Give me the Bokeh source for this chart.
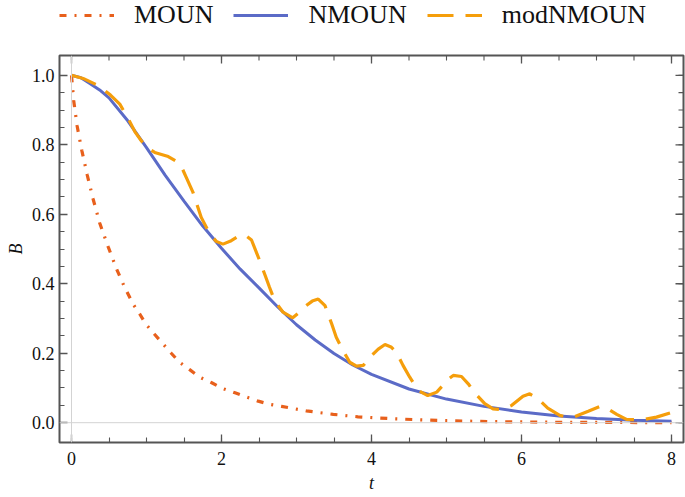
import math
from bokeh.plotting import figure
from bokeh.layouts import column
from bokeh.models import Range1d, FixedTicker, Span, Legend, LegendItem
from bokeh.embed import file_html
from bokeh.resources import INLINE

# ---- data ----
t_moun = [0, 0.03, 0.075, 0.137, 0.21, 0.288, 0.377, 0.488, 0.6, 0.71, 0.82, 0.91, 0.99,
          1.11, 1.22, 1.33, 1.44, 1.58, 1.71, 1.87, 2.02, 2.18, 2.33, 2.49, 2.64, 2.8,
          3.13, 3.49, 3.82, 4.31, 4.95, 5.6, 6.5, 7.3, 8.0]
b_moun = [1.0, 0.926, 0.854, 0.784, 0.713, 0.644, 0.574, 0.507, 0.443, 0.389, 0.342, 0.313, 0.284,
          0.254, 0.227, 0.2, 0.174, 0.152, 0.131, 0.115, 0.098, 0.086, 0.074, 0.062, 0.053, 0.047,
          0.034, 0.024, 0.017, 0.011, 0.006, 0.003, 0.0012, 0.0006, 0.0003]

t_nmoun = [0, 0.125, 0.25, 0.375, 0.5, 0.75, 1.0, 1.25, 1.5, 1.75, 2.0, 2.25, 2.5, 2.75, 3.0,
           3.25, 3.5, 3.75, 4.0, 4.5, 5.0, 5.5, 6.0, 6.5, 7.0, 7.5, 8.0]
b_nmoun = [1.0, 0.993, 0.976, 0.958, 0.935, 0.869, 0.792, 0.712, 0.638, 0.566, 0.502, 0.442,
           0.388, 0.333, 0.282, 0.238, 0.199, 0.166, 0.139, 0.097, 0.068, 0.047, 0.031, 0.019,
           0.012, 0.007, 0.0045]

t_mod = [0, 0.155, 0.37, 0.52, 0.644, 0.755, 0.844, 0.933, 1.02, 1.11, 1.2, 1.29, 1.4, 1.47,
         1.53, 1.62, 1.73, 1.84, 1.93, 2.02, 2.13, 2.22, 2.31, 2.4, 2.51, 2.58, 2.64, 2.71,
         2.82, 2.95, 3.04, 3.13, 3.21, 3.29, 3.38, 3.47, 3.53, 3.62, 3.71, 3.8, 3.89, 4.0,
         4.09, 4.18, 4.26, 4.33, 4.42, 4.51, 4.62, 4.75, 4.87, 4.95, 5.02, 5.09, 5.2, 5.29,
         5.38, 5.51, 5.62, 5.71, 5.8, 5.87, 6.02, 6.11, 6.22, 6.35, 6.51, 6.6, 6.69, 6.89,
         7.05, 7.15, 7.27, 7.4, 7.62, 7.8, 7.98]
b_mod = [1.0, 0.991, 0.969, 0.943, 0.917, 0.876, 0.838, 0.811, 0.79, 0.778, 0.772, 0.766, 0.752, 0.735,
         0.706, 0.663, 0.591, 0.545, 0.522, 0.514, 0.524, 0.536, 0.541, 0.526, 0.466, 0.425, 0.39, 0.351,
         0.318, 0.302, 0.318, 0.337, 0.35, 0.356, 0.337, 0.284, 0.246, 0.208, 0.174, 0.163, 0.165, 0.193,
         0.212, 0.225, 0.218, 0.203, 0.165, 0.131, 0.093, 0.078, 0.088, 0.107, 0.125, 0.136, 0.133, 0.112,
         0.085, 0.055, 0.04, 0.038, 0.043, 0.05, 0.076, 0.083, 0.069, 0.042, 0.021, 0.016, 0.016, 0.033,
         0.047, 0.04, 0.024, 0.0095, 0.0086, 0.016, 0.028]

x_major = [0, 2, 4, 6, 8]
x_minor = [i * 0.5 for i in range(17)]
y_major = [0.0, 0.2, 0.4, 0.6, 0.8, 1.0]
y_minor = [i * 0.05 for i in range(21)]
y_labels = {0.0: "0.0", 0.2: "0.2", 0.4: "0.4", 0.6: "0.6", 0.8: "0.8", 1.0: "1.0"}
names = ["MOUN", "NMOUN", "modNMOUN"]
X_LO, X_HI = -0.16, 8.16
Y_LO, Y_HI = -0.057, 1.057

C_MOUN = "#E8601C"
C_NMOUN = "#5B6BC7"
C_MOD = "#F59E0B"
FRAME = "#555555"
FONT = "Liberation Serif"
S_MOUN = dict(line_color=C_MOUN, line_width=3.2, line_dash="7 8 2 8")
S_NMOUN = dict(line_color=C_NMOUN, line_width=3)
S_MOD = dict(line_color=C_MOD, line_width=3.2, line_dash="26 12")

# ---------------- main plot ----------------
p = figure(width=685, height=463, output_backend="svg", toolbar_location=None,
           x_range=Range1d(X_LO, X_HI), y_range=Range1d(Y_LO, Y_HI),
           min_border_left=59, min_border_right=2, min_border_top=21, min_border_bottom=55)
p.grid.visible = False
p.outline_line_color = FRAME
p.outline_line_width = 2
p.background_fill_color = "white"
p.border_fill_color = "white"

p.add_layout(Span(location=0, dimension="height", line_color="#d3d3d3", line_width=1))
p.add_layout(Span(location=0, dimension="width", line_color="#d3d3d3", line_width=1))

p.line(t_moun, b_moun, **S_MOUN)
p.line(t_nmoun, b_nmoun, **S_NMOUN)
p.line(t_mod, b_mod, **S_MOD)

# inward ticks on the top and right frame edges (mirroring the axis ticks)
p.scatter(x=x_minor, y=[Y_HI] * len(x_minor), marker="dash", size=10, angle=math.pi / 2,
          line_color=FRAME, line_width=1.1)
p.scatter(x=x_major, y=[Y_HI] * len(x_major), marker="dash", size=16, angle=math.pi / 2,
          line_color=FRAME, line_width=1.3)
p.scatter(x=[X_HI] * len(y_minor), y=y_minor, marker="dash", size=10,
          line_color=FRAME, line_width=1.1)
p.scatter(x=[X_HI] * len(y_major), y=y_major, marker="dash", size=16,
          line_color=FRAME, line_width=1.3)

xt = FixedTicker(ticks=x_major, minor_ticks=x_minor)
yt = FixedTicker(ticks=y_major, minor_ticks=y_minor)

def style(ax):
    ax.axis_line_color = None
    ax.major_tick_in = 8
    ax.major_tick_out = 0
    ax.minor_tick_in = 5
    ax.minor_tick_out = 0
    ax.major_tick_line_color = FRAME
    ax.minor_tick_line_color = FRAME
    ax.major_tick_line_width = 1.3
    ax.minor_tick_line_width = 1.1
    ax.major_label_text_font = FONT
    ax.major_label_text_font_size = "18px"
    ax.major_label_text_color = "#111111"
    ax.axis_label_text_font = FONT
    ax.axis_label_text_font_style = "italic"
    ax.axis_label_text_font_size = "18px"
    ax.axis_label_text_color = "#111111"

p.xaxis.ticker = xt
p.yaxis.ticker = yt
p.yaxis.major_label_overrides = y_labels
for ax in p.xaxis + p.yaxis:
    style(ax)
p.xaxis.axis_label = "t"
p.yaxis.axis_label = "B"
p.xaxis.major_label_standoff = 9
p.xaxis.axis_label_standoff = 5
p.yaxis.major_label_standoff = 5
p.yaxis.axis_label_standoff = 3

# ---------------- legend strip ----------------
lg = figure(width=685, height=34, output_backend="svg", toolbar_location=None,
            x_range=Range1d(100, 101), y_range=Range1d(100, 101),
            x_axis_location=None, y_axis_location=None,
            min_border=0, outline_line_color=None)
lg.grid.visible = False
q1 = lg.line(t_moun, b_moun, **S_MOUN)
q2 = lg.line(t_nmoun, b_nmoun, **S_NMOUN)
q3 = lg.line(t_mod, b_mod, **S_MOD)
legend = Legend(items=[LegendItem(label=names[0], renderers=[q1]),
                       LegendItem(label=names[1], renderers=[q2]),
                       LegendItem(label=names[2], renderers=[q3])],
                orientation="horizontal", location=(0, 4),
                glyph_width=55, glyph_height=20, label_standoff=20, spacing=20,
                padding=0, margin=0, border_line_color=None, background_fill_alpha=0,
                label_text_font=FONT, label_text_font_size="26px", label_text_color="#111111",
                label_height=24)
lg.add_layout(legend)

layout = column(lg, p, spacing=0)
open("out.html", "w").write(file_html(layout, INLINE))
